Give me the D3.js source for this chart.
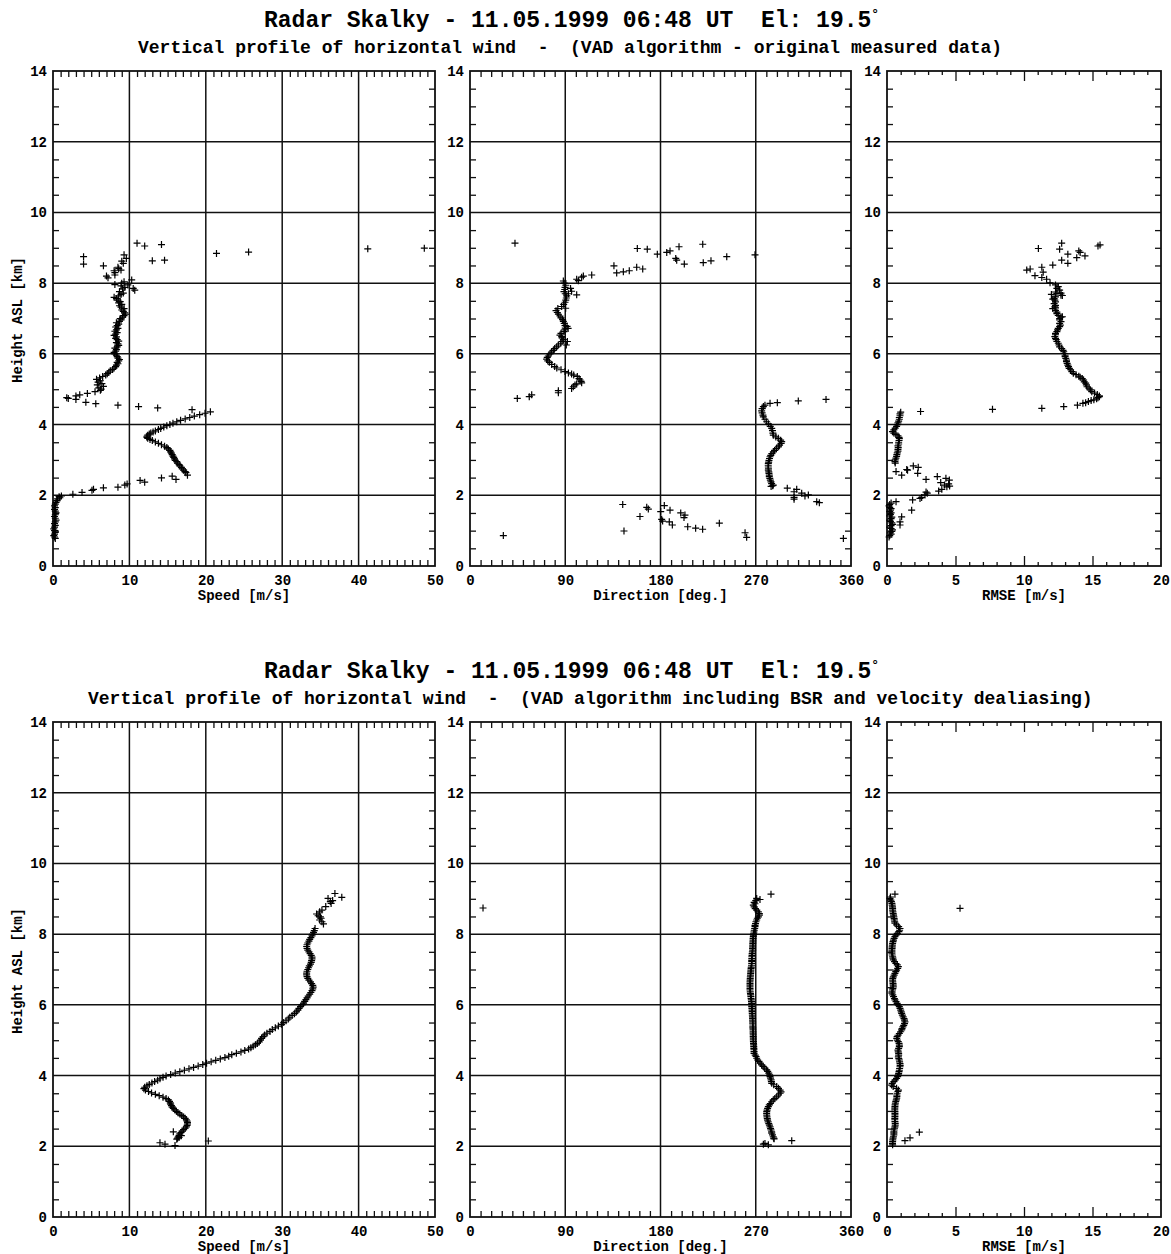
<!DOCTYPE html>
<html>
<head>
<meta charset="utf-8">
<script src="https://cdn.jsdelivr.net/npm/d3@7"></script>
<style>
body { margin: 0; background: #fff; }
text { font-family: "Liberation Mono", "Courier New", monospace; font-weight: bold; fill: #000; white-space: pre; }
.tick text { font-size: 14px; }
.axis-title { font-size: 14px; }
.title { font-size: 23px; }
.subtitle { font-size: 18px; }
</style>
</head>
<body>
<div id="chart"></div>
<script>
// wind profile, two VAD runs: [value, height km]

var titleText = "Radar Skalky - 11.05.1999 06:48 UT  El: 19.5";
var subtitles = [
    "Vertical profile of horizontal wind  -  (VAD algorithm - original measured data)",
    "Vertical profile of horizontal wind  -  (VAD algorithm including BSR and velocity dealiasing)"
];

var heightTicks = [0, 2, 4, 6, 8, 10, 12, 14];
var speedTicks = [0, 10, 20, 30, 40, 50];
var directionTicks = [0, 90, 180, 270, 360];
var rmseTicks = [0, 5, 10, 15, 20];

// ---- original measured data ----
var speedOriginal = [
    [0.3,0.78],[0.2,0.82],[0.1,0.86],[0.2,0.90],[0.3,0.95],[0.2,1.00],[0.1,1.05],[0.2,1.10],[0.3,1.15],[0.2,1.20],
    [0.3,1.25],[0.4,1.30],[0.3,1.35],[0.2,1.40],[0.3,1.45],[0.4,1.50],[0.3,1.55],[0.2,1.60],[0.3,1.65],[0.2,1.70],
    [0.3,1.75],[0.4,1.80],[0.5,1.85],[0.6,1.90],[0.9,1.93],[0.8,1.96],
    [1.1,1.98],[2.6,2.03],[3.8,2.08],[5.1,2.14],[5.3,2.17],[6.6,2.21],[8.5,2.23],[9.4,2.29],[9.7,2.32],[11.4,2.42],
    [12.0,2.37],[14.2,2.49],[15.6,2.54],[16.1,2.45],[17.4,2.64],[17.6,2.57],
    [17.3,2.67],[17.1,2.71],[16.9,2.75],[16.8,2.79],[16.6,2.83],[16.5,2.87],[16.3,2.91],[16.2,2.95],[16.0,2.99],[15.9,3.03],
    [15.8,3.07],[15.7,3.11],[15.6,3.15],[15.5,3.19],[15.4,3.23],[15.3,3.27],[15.1,3.31],[14.9,3.35],[14.6,3.39],[14.2,3.43],
    [13.8,3.47],[13.4,3.51],[13.0,3.55],[12.7,3.58],[12.4,3.61],[12.3,3.64],[12.3,3.67],[12.4,3.70],[12.6,3.73],[12.8,3.76],
    [13.1,3.79],[13.4,3.82],[13.8,3.86],[14.1,3.89],[14.5,3.93],[14.9,3.97],[15.3,4.00],[15.7,4.04],[16.2,4.08],[16.7,4.12],
    [17.3,4.16],[17.9,4.20],[18.5,4.24],[19.2,4.28],[19.9,4.32],[20.6,4.36],
    [18.2,4.42],[13.7,4.47],[11.2,4.51],[8.5,4.55],[5.6,4.59],[4.3,4.63],
    [1.8,4.76],[2.0,4.74],[3.0,4.81],[3.0,4.71],[3.5,4.84],[4.5,4.88],[5.5,4.93],[6.2,4.97],
    [6.3,5.00],[6.0,5.04],[6.6,5.08],[5.8,5.12],[6.4,5.16],[5.9,5.20],[6.2,5.24],[5.7,5.28],[6.1,5.32],[6.5,5.36],
    [6.9,5.40],[7.1,5.44],[7.3,5.48],[7.5,5.52],[7.8,5.56],[8.0,5.60],[8.2,5.64],[8.3,5.68],[8.5,5.72],[8.4,5.76],
    [8.6,5.80],[8.7,5.84],[8.5,5.88],[8.4,5.92],[8.3,5.96],[8.1,6.00],[8.0,6.04],[8.2,6.08],[8.3,6.12],[8.1,6.16],
    [8.4,6.20],[8.6,6.24],[8.5,6.28],[8.3,6.32],[8.6,6.36],[8.4,6.40],[8.2,6.44],[8.3,6.48],[8.0,6.52],[8.2,6.56],
    [8.4,6.60],[8.1,6.64],[8.3,6.68],[8.5,6.72],[8.2,6.76],[8.4,6.80],[8.6,6.84],[8.3,6.88],[8.7,6.92],[8.9,6.96],
    [8.8,7.00],[9.1,7.04],[9.3,7.08],[9.5,7.12],[9.4,7.16],[9.2,7.20],[9.0,7.24],[9.3,7.28],[8.9,7.32],[8.7,7.36],
    [9.0,7.40],[8.6,7.44],[8.8,7.48],[8.5,7.52],[8.3,7.56],[8.0,7.60],[8.6,7.64],[8.9,7.68],[9.2,7.72],[8.7,7.76],
    [10.7,7.80],[9.1,7.84],[9.4,7.88],[8.9,7.92],[8.1,7.96],[9.0,8.00],[9.3,8.04],[10.3,8.09],[10.5,7.85],[9.8,7.95],
    [7.2,8.15],[7.0,8.20],[8.1,8.23],[8.1,8.30],[8.0,8.35],[8.6,8.41],[8.9,8.37],[8.5,8.45],[6.6,8.49],[9.2,8.56],
    [9.0,8.62],[9.6,8.70],[9.3,8.80],[4.0,8.75],[4.0,8.54],[11.0,9.13],[12.0,9.05],[14.2,9.09],[13.0,8.63],[14.6,8.65],
    [21.4,8.84],[25.6,8.88],[41.2,8.97],[48.6,8.99]
];

var directionOriginal = [
    [42.5,9.13],[31.5,0.86],[44.7,4.74],[56,4.79],[58.3,4.84],[83.5,4.90],[83.5,4.96],
    [96,5.02],[97.6,5.07],[99.2,5.12],[100.8,5.15],[105.5,5.18],[105,5.22],[104,5.26],[103,5.30],[101.4,5.36],[98,5.40],
    [96,5.43],[93,5.46],[89.8,5.50],[86,5.55],[82,5.60],[80,5.64],[77.2,5.70],[75,5.76],[73.5,5.80],[72.4,5.85],
    [73,5.90],[74,5.94],[75.6,6.00],[77,6.05],[78.7,6.10],[80,6.15],[81.9,6.20],[83.5,6.25],[85.7,6.30],[87,6.35],
    [88.2,6.40],[87,6.45],[86.6,6.49],[85,6.53],[86,6.58],[88.8,6.63],[89.5,6.68],[90,6.73],[89.8,6.80],[89,6.86],
    [88.2,6.92],[87.5,6.97],[86,7.02],[85,7.07],[83.5,7.12],[82.5,7.17],[81.3,7.22],[83,7.28],[86.6,7.34],[88.5,7.40],
    [89.8,7.46],[90.5,7.52],[91,7.58],[91.4,7.64],[90,7.70],[88.8,7.76],[89.5,7.82],[89.8,7.88],[90.5,7.94],[89,8.00],
    [88.2,8.06],[100.8,7.67],[95,7.85],[96,7.77],[93,7.70],[90.4,7.29],[91.7,6.78],[92.7,6.72],[91,6.25],[92,6.35],
    [100.8,8.11],[102.4,8.07],[105.5,8.17],[107.1,8.20],[115,8.23],[136,8.49],[138.6,8.29],[144.9,8.32],[150.5,8.35],
    [157.5,8.45],[163.2,8.40],[158.1,8.98],[167.5,8.96],[177,8.82],[185.9,8.87],[189,8.91],[197.5,9.03],[194.4,8.70],
    [195.3,8.65],[202.5,8.54],[219.9,9.10],[220.4,8.58],[227.7,8.63],[242.6,8.75],[269.3,8.80],
    [277.2,4.51],[276,4.45],[275.6,4.39],[276,4.33],[276.8,4.27],[277.2,4.22],[278.7,4.15],[280.3,4.08],[282,4.02],
    [283.7,3.95],[285.1,3.89],[285.8,3.83],[286.2,3.76],[286.6,3.70],[289,3.65],[291.3,3.61],[293.5,3.56],[294.5,3.52],
    [294,3.47],[292.5,3.42],[291.3,3.37],[289.5,3.32],[287.8,3.27],[286.6,3.23],[285.2,3.18],[284.2,3.13],[283.5,3.09],
    [283,3.04],[282.5,2.99],[282.2,2.94],[281.9,2.90],[281.8,2.85],[281.9,2.80],[282,2.75],[281.9,2.71],[282.3,2.66],
    [282.5,2.62],[282.8,2.57],[282.8,2.53],[283.3,2.48],[283.8,2.43],[284.4,2.38],[285,2.33],[286.5,2.29],[286,2.27],
    [284.5,2.25],[278.7,4.55],[283.5,4.60],[290.4,4.62],[310.2,4.67],[336.4,4.71],
    [299.8,2.20],[306.2,2.10],[308.7,2.17],[306.2,1.89],[306.2,1.94],[313.4,2.06],[316.5,1.98],[319.7,2.01],
    [327.6,1.82],[330.1,1.79],[352.8,0.78],
    [144.3,1.74],[145.5,0.99],[160.6,1.40],[167,1.66],[168.5,1.61],[180.2,1.54],[183.6,1.71],[181.1,1.32],[182,1.27],
    [189,1.58],[188.3,1.25],[191.2,1.16],[199.1,1.50],[203.1,1.44],[202.2,1.37],[205.7,1.11],[213.2,1.07],[219.8,1.04],
    [235.6,1.21],[259.9,0.94],[261.4,0.81]
];

var rmseOriginal = [
    [11.05,8.98],[12.75,9.13],[12.6,8.96],[13.2,8.82],[14.0,8.91],[14.1,8.87],[15.4,9.05],[15.55,9.08],[14.45,8.77],
    [13.85,8.72],[12.75,8.65],[13.2,8.56],[12.1,8.51],[11.3,8.45],[11.4,8.31],[10.2,8.37],[10.45,8.40],[10.8,8.21],
    [11.3,8.16],[11.65,8.11],[11.9,8.01],
    [12.3,7.95],[12.5,7.90],[12.4,7.85],[12.6,7.80],[12.3,7.75],[12.4,7.71],[12.7,7.66],[12.3,7.61],[12.2,7.56],
    [12.25,7.52],[12.3,7.47],[12.2,7.42],[12.3,7.37],[12.25,7.33],[12.1,7.28],[12.3,7.23],[12.4,7.18],[12.4,7.14],
    [12.5,7.09],[12.7,7.04],[12.6,7.00],[12.6,6.96],[12.7,6.91],[12.6,6.86],[12.65,6.81],[12.6,6.77],[12.5,6.72],
    [12.45,6.68],[12.4,6.63],[12.3,6.58],[12.3,6.54],[12.25,6.49],[12.3,6.44],[12.35,6.40],[12.4,6.35],[12.5,6.30],
    [12.55,6.25],[12.6,6.20],[12.75,6.15],[12.85,6.10],[12.9,6.06],[12.95,6.01],[13.0,5.96],[13.0,5.92],[13.05,5.87],
    [13.1,5.82],[13.1,5.78],[13.15,5.73],[13.2,5.68],[13.25,5.64],[13.3,5.59],[13.4,5.55],[13.5,5.50],[13.6,5.45],
    [13.8,5.41],[14.0,5.37],[14.1,5.34],[14.25,5.30],[14.35,5.26],[14.4,5.21],[14.5,5.17],[14.55,5.12],[14.6,5.07],
    [14.75,5.03],[14.85,4.98],[14.95,4.93],[15.15,4.89],[15.35,4.85],[15.5,4.81],[15.5,4.79],[15.4,4.76],[15.3,4.73],
    [15.1,4.70],[14.9,4.68],[14.7,4.65],[14.5,4.62],[14.3,4.60],
    [12.0,7.68],[12.8,7.65],[12.7,7.72],[12.3,7.30],[12.8,7.05],[12.1,7.55],
    [13.9,4.55],[12.9,4.51],[11.3,4.46],[7.7,4.43],[2.45,4.37],
    [1.0,4.35],[0.95,4.30],[0.95,4.25],[0.9,4.20],[0.9,4.15],[0.85,4.10],[0.8,4.05],[0.75,4.00],[0.7,3.95],[0.6,3.90],
    [0.5,3.85],[0.4,3.80],[0.5,3.76],[0.65,3.72],[0.8,3.68],[0.88,3.64],[0.9,3.60],[0.88,3.55],[0.85,3.50],[0.85,3.45],
    [0.8,3.40],[0.82,3.35],[0.8,3.30],[0.8,3.25],[0.75,3.20],[0.72,3.15],[0.7,3.10],[0.65,3.05],[0.6,3.00],[0.58,2.95],
    [0.6,2.91],
    [0.66,2.67],[1.07,2.57],[1.44,2.73],[1.5,2.71],[1.92,2.83],[2.28,2.79],[2.24,2.62],[2.85,2.45],[3.67,2.53],[4.3,2.48],
    [4.55,2.43],[3.92,2.36],[4.2,2.29],[4.37,2.24],[4.57,2.26],[4.5,2.32],[3.77,2.12],[4.0,2.17],[2.94,2.06],[2.77,2.01],
    [2.53,1.94],[2.41,1.91],[2.85,2.09],[1.87,1.87],[1.8,1.58],[1.07,1.39],[0.95,1.25],[0.95,1.16],[0.66,1.82],
    [0.3,1.78],[0.2,1.74],[0.15,1.70],[0.2,1.66],[0.3,1.62],[0.25,1.58],[0.2,1.54],[0.3,1.50],[0.25,1.46],[0.2,1.42],
    [0.35,1.38],[0.3,1.34],[0.2,1.30],[0.25,1.26],[0.35,1.22],[0.4,1.18],[0.3,1.14],[0.2,1.10],[0.3,1.06],[0.4,1.02],
    [0.35,0.98],[0.25,0.94],[0.3,0.90],[0.2,0.86],[0.15,0.82]
];

// ---- BSR + dealiasing ----
var speedCorrected = [
    [37.8,9.04],[36.9,9.15],[36.0,9.01],[36.3,8.92],[36.6,8.95],[36.4,8.87],[35.7,8.78],[35.2,8.68],[34.9,8.63],[34.5,8.57],
    [35.0,8.49],[34.9,8.40],[35.4,8.29],[35.2,8.35],[34.3,8.16],[35.1,8.45],[34.7,8.52],
    [34.2,8.10],[34.1,8.05],[34.0,8.00],[33.9,7.95],[33.75,7.90],[33.6,7.85],[33.5,7.80],[33.35,7.75],[33.25,7.70],
    [33.2,7.65],[33.25,7.60],[33.35,7.55],[33.5,7.50],[33.65,7.45],[33.8,7.40],[33.9,7.35],[33.9,7.30],[33.85,7.25],
    [33.8,7.20],[33.7,7.15],[33.55,7.10],[33.45,7.05],[33.35,7.00],[33.25,6.95],[33.2,6.90],[33.2,6.85],[33.25,6.80],
    [33.35,6.75],[33.5,6.70],[33.7,6.65],[33.85,6.60],[34.0,6.55],[34.05,6.50],[34.0,6.45],[33.9,6.40],[33.75,6.35],
    [33.6,6.30],[33.4,6.25],[33.25,6.20],[33.1,6.15],[32.95,6.10],[32.8,6.05],[32.6,6.00],[32.4,5.95],[32.2,5.90],
    [32.05,5.85],[31.85,5.80],[31.6,5.75],[31.3,5.70],[31.0,5.65],[30.8,5.60],[30.5,5.55],[30.2,5.50],[29.9,5.45],
    [29.5,5.40],[29.1,5.35],[28.7,5.30],[28.4,5.25],[28.0,5.20],[27.7,5.15],[27.5,5.10],[27.3,5.05],[27.15,5.00],
    [27.0,4.95],[26.75,4.91],[26.5,4.87],[26.2,4.83],[25.9,4.79],[25.6,4.75],[25.1,4.71],[24.6,4.67],[24.0,4.63],
    [23.4,4.59],[23.0,4.55],[22.5,4.51],[21.9,4.47],[21.3,4.43],[20.7,4.39],[20.1,4.35],[19.6,4.31],[19.0,4.27],
    [18.4,4.23],[17.8,4.19],[17.2,4.15],[16.6,4.11],[16.0,4.07],[15.4,4.03],[14.8,3.99],[14.4,3.95],[14.0,3.91],
    [13.7,3.87],[13.3,3.83],[12.95,3.79],[12.6,3.75],[12.3,3.71],[12.0,3.67],[11.9,3.63],[12.1,3.59],[12.5,3.55],
    [12.9,3.51],[13.4,3.47],[13.9,3.43],[14.4,3.39],[14.8,3.35],[15.1,3.31],[15.25,3.27],[15.35,3.23],[15.4,3.19],
    [15.5,3.15],[15.6,3.11],[15.75,3.07],[15.95,3.03],[16.15,2.99],[16.35,2.95],[16.6,2.91],[16.85,2.87],[17.1,2.83],
    [17.3,2.79],[17.45,2.75],[17.55,2.71],[17.6,2.67],[17.6,2.63],[17.55,2.59],[17.45,2.55],[17.3,2.51],[17.1,2.47],
    [16.9,2.43],[16.75,2.39],[16.6,2.35],[16.5,2.31],[16.4,2.27],[16.3,2.23],[16.2,2.20],
    [15.75,2.41],[14.0,2.10],[14.66,2.06],[15.97,2.02],[20.33,2.15],[16.8,2.30],[16.5,2.25]
];

var directionCorrected = [
    [284.4,9.13],[270.9,9.01],[274,8.98],[270,8.95],[268.5,8.90],[269.3,8.86],[267.7,8.82],[268.5,8.77],[269.5,8.72],
    [271,8.68],[272.4,8.63],[273.4,8.58],[273.4,8.54],[272.5,8.49],[271.5,8.45],[270.9,8.40],[270.2,8.35],[269.8,8.30],
    [269.3,8.25],[269.3,8.21],[269,8.16],[268.6,8.11],[268.3,8.06],[268,8.01],[267.8,7.97],[267.7,7.93],[267.5,7.88],
    [267.4,7.83],[267.3,7.78],[267.2,7.74],[267.1,7.69],[267.1,7.64],[267,7.60],[267.1,7.55],[266.8,7.50],[266.6,7.45],
    [266.5,7.40],[266.3,7.36],[266.3,7.31],[266.2,7.26],[266.2,7.22],[266.2,7.17],[266,7.12],[265.8,7.07],[265.6,7.03],
    [265.4,6.98],[265.3,6.93],[265.2,6.89],[265,6.84],[264.9,6.79],[264.8,6.74],[264.7,6.70],[264.6,6.65],[264.6,6.60],
    [264.6,6.56],[264.6,6.51],[264.6,6.46],[264.6,6.42],[264.8,6.37],[265,6.32],[265.2,6.28],[265.4,6.23],[265.6,6.18],
    [265.8,6.14],[266,6.09],[266.1,6.04],[266.2,6.00],[266.2,5.95],[266.4,5.90],[266.5,5.85],[266.6,5.81],[266.7,5.76],
    [266.8,5.71],[266.9,5.66],[267,5.62],[267,5.57],[267.1,5.52],[267.1,5.48],[267.2,5.43],[267.2,5.38],[267.3,5.34],
    [267.4,5.29],[267.5,5.24],[267.5,5.20],[267.6,5.15],[267.6,5.10],[267.7,5.06],[267.7,5.01],[267.8,4.96],[267.9,4.91],
    [268,4.87],[268.1,4.82],[268.2,4.77],[268.3,4.73],[268.4,4.68],[268.4,4.63],[269.5,4.58],[270.3,4.54],[270.9,4.49],
    [271.8,4.44],[273,4.40],[274.2,4.35],[275.6,4.30],[277,4.26],[278.5,4.21],[280.3,4.16],[281.3,4.12],[282.3,4.07],
    [283.1,4.02],[283.5,3.97],[284,3.93],[284.5,3.88],[284.8,3.83],[285.1,3.78],[287,3.74],[289.8,3.69],[291.5,3.64],
    [293,3.59],[293.9,3.54],[293,3.50],[291.5,3.45],[289.8,3.40],[288,3.35],[286.5,3.31],[285.1,3.26],[283.8,3.21],
    [282.8,3.17],[281.9,3.12],[281.2,3.07],[280.7,3.02],[280.4,2.98],[280.3,2.93],[280.4,2.88],[280.6,2.83],[280.9,2.78],
    [281.2,2.74],[281.7,2.69],[282.3,2.64],[282.9,2.60],[283.5,2.55],[284,2.50],[284.5,2.46],[285,2.41],[285.1,2.37],
    [285.8,2.32],[286.5,2.27],[287,2.23],[287.3,2.21],
    [281.9,2.04],[278.7,2.08],[277.2,2.06],[304,2.16],[12.3,8.74]
];

var rmseCorrected = [
    [0.58,9.13],[0.25,9.05],[0.22,9.01],[0.28,8.96],[0.32,8.92],[0.36,8.87],[0.38,8.82],[0.40,8.77],[0.41,8.73],[0.41,8.68],
    [0.43,8.63],[0.45,8.58],[0.48,8.54],[0.5,8.49],[0.52,8.44],[0.54,8.40],[0.56,8.35],[0.58,8.31],[0.7,8.26],[0.85,8.21],
    [0.95,8.16],[0.92,8.11],[0.87,8.07],[0.75,8.02],[0.65,7.97],[0.58,7.93],[0.52,7.88],[0.47,7.83],[0.44,7.79],[0.41,7.74],
    [0.39,7.69],[0.38,7.64],[0.37,7.60],[0.36,7.55],[0.36,7.50],[0.36,7.46],[0.38,7.41],[0.41,7.36],[0.43,7.32],[0.46,7.27],
    [0.55,7.22],[0.65,7.17],[0.75,7.13],[0.83,7.08],[0.78,7.03],[0.7,6.98],[0.64,6.94],[0.58,6.89],[0.52,6.84],[0.46,6.79],
    [0.42,6.75],[0.41,6.70],[0.42,6.65],[0.44,6.60],[0.45,6.56],[0.46,6.51],[0.43,6.46],[0.4,6.42],[0.37,6.37],[0.36,6.33],
    [0.42,6.28],[0.48,6.23],[0.54,6.18],[0.58,6.14],[0.66,6.09],[0.74,6.04],[0.82,5.99],[0.9,5.95],[0.95,5.90],[1.0,5.85],
    [1.04,5.80],[1.07,5.76],[1.12,5.71],[1.18,5.66],[1.24,5.61],[1.28,5.57],[1.31,5.52],[1.28,5.47],[1.22,5.42],[1.16,5.38],
    [1.1,5.33],[1.07,5.29],[1.0,5.24],[0.9,5.19],[0.8,5.14],[0.74,5.10],[0.71,5.05],[0.75,5.00],[0.82,4.96],[0.88,4.91],
    [0.9,4.86],[0.9,4.82],[0.85,4.77],[0.8,4.72],[0.82,4.67],[0.85,4.63],[0.85,4.58],[0.83,4.53],[0.86,4.48],[0.9,4.44],
    [0.92,4.39],[0.95,4.34],[0.96,4.29],[0.95,4.25],[0.92,4.20],[0.9,4.15],[0.88,4.11],[0.85,4.06],[0.83,4.02],[0.78,3.97],
    [0.7,3.92],[0.6,3.88],[0.5,3.83],[0.38,3.78],[0.34,3.73],[0.45,3.69],[0.7,3.64],[0.83,3.59],[0.8,3.55],[0.74,3.50],
    [0.72,3.45],[0.72,3.41],[0.71,3.36],[0.68,3.31],[0.64,3.27],[0.61,3.22],[0.59,3.17],[0.58,3.12],[0.57,3.08],[0.57,3.03],
    [0.58,2.98],[0.58,2.93],[0.58,2.89],[0.58,2.84],[0.57,2.79],[0.57,2.75],[0.58,2.70],[0.6,2.65],[0.6,2.60],[0.58,2.55],
    [0.55,2.51],[0.52,2.46],[0.5,2.41],[0.5,2.37],[0.5,2.32],[0.47,2.27],[0.44,2.23],[0.42,2.18],[0.41,2.13],[0.4,2.08],
    [0.41,2.04],[1.31,2.16],[1.68,2.24],[2.36,2.40],[5.33,8.73]
];

// ---- layout ----
var width = 1171, height = 1254;
var plotH = 495;

var figures = [
    {top: 71,  subtitle: subtitles[0], subX: 138, speed: speedOriginal,  dir: directionOriginal,  rmse: rmseOriginal},
    {top: 722, subtitle: subtitles[1], subX: 88,  speed: speedCorrected, dir: directionCorrected, rmse: rmseCorrected}
];

var panels = [
    {key: "speed", x0: 53,  x1: 435,  domain: [0, 50],  ticks: speedTicks,     grid: true,  minor: 1,  label: "Speed [m/s]"},
    {key: "dir",   x0: 470, x1: 851,  domain: [0, 360], ticks: directionTicks, grid: true,  minor: 10, label: "Direction [deg.]"},
    {key: "rmse",  x0: 887, x1: 1161, domain: [0, 20],  ticks: rmseTicks,      grid: false, minor: 1,  label: "RMSE [m/s]"}
];

var svg = d3.select("#chart").append("svg")
    .attr("width", width)
    .attr("height", height);

var plus = "M-3.5,0H3.5M0,-3.5V3.5";

figures.forEach(function(fig) {

    // titles
    var t = svg.append("text")
        .attr("class", "title")
        .attr("x", 264)
        .attr("y", fig.top - 44)
        .text(titleText);
    t.append("tspan")
        .attr("dy", -9)
        .style("font-size", "13px")
        .text("\u00b0");

    svg.append("text")
        .attr("class", "subtitle")
        .attr("x", fig.subX)
        .attr("y", fig.top - 18)
        .text(fig.subtitle);

    var y = d3.scaleLinear().domain([0, 14]).range([fig.top + plotH, fig.top]);
    var minorY = d3.range(0.5, 14, 0.5).filter(function(v) { return v % 2 !== 0; });

    panels.forEach(function(p, pi) {
        var x = d3.scaleLinear().domain(p.domain).range([p.x0, p.x1]);
        var g = svg.append("g");
        var w = p.x1 - p.x0;

        // grid
        heightTicks.slice(1, -1).forEach(function(h) {
            g.append("line")
                .attr("x1", p.x0).attr("x2", p.x1)
                .attr("y1", y(h)).attr("y2", y(h))
                .attr("stroke", "#111").attr("stroke-width", 1.5);
        });
        if (p.grid) {
            p.ticks.slice(1, -1).forEach(function(v) {
                g.append("line")
                    .attr("x1", x(v)).attr("x2", x(v))
                    .attr("y1", fig.top).attr("y2", fig.top + plotH)
                    .attr("stroke", "#111").attr("stroke-width", 1.5);
            });
        }

        // minor ticks, x
        var minorX = d3.range(p.domain[0] + p.minor, p.domain[1], p.minor)
            .filter(function(v) { return p.ticks.indexOf(v) < 0; });
        var tickLen = p.key === "rmse" ? 4 : 6;

        g.append("g")
            .attr("transform", "translate(0," + (fig.top + plotH) + ")")
            .call(d3.axisBottom(x).tickValues(minorX).tickSize(-tickLen).tickFormat(""))
            .call(function(a) { a.select(".domain").remove(); });
        g.append("g")
            .attr("transform", "translate(0," + fig.top + ")")
            .call(d3.axisTop(x).tickValues(minorX).tickSize(-tickLen).tickFormat(""))
            .call(function(a) { a.select(".domain").remove(); });

        if (!p.grid) {
            var inner = p.ticks.slice(1, -1);
            g.append("g")
                .attr("transform", "translate(0," + (fig.top + plotH) + ")")
                .call(d3.axisBottom(x).tickValues(inner).tickSize(-10).tickFormat(""))
                .call(function(a) { a.select(".domain").remove(); });
            g.append("g")
                .attr("transform", "translate(0," + fig.top + ")")
                .call(d3.axisTop(x).tickValues(inner).tickSize(-10).tickFormat(""))
                .call(function(a) { a.select(".domain").remove(); });
        }

        // minor ticks, y
        g.append("g")
            .attr("transform", "translate(" + p.x0 + ",0)")
            .call(d3.axisLeft(y).tickValues(minorY).tickSize(-6).tickFormat(""))
            .call(function(a) { a.select(".domain").remove(); });
        g.append("g")
            .attr("transform", "translate(" + p.x1 + ",0)")
            .call(d3.axisRight(y).tickValues(minorY).tickSize(-6).tickFormat(""))
            .call(function(a) { a.select(".domain").remove(); });

        g.selectAll(".tick line").attr("stroke", "#111").attr("stroke-width", 1.3);

        // tick labels
        g.append("g")
            .attr("transform", "translate(0," + (fig.top + plotH) + ")")
            .call(d3.axisBottom(x).tickValues(p.ticks).tickSize(0).tickPadding(9).tickFormat(d3.format("d")))
            .call(function(a) { a.select(".domain").remove(); });
        g.append("g")
            .attr("transform", "translate(" + p.x0 + ",0)")
            .call(d3.axisLeft(y).tickValues(heightTicks).tickSize(0).tickPadding(6).tickFormat(d3.format("d")))
            .call(function(a) { a.select(".domain").remove(); });

        // axis titles
        g.append("text")
            .attr("class", "axis-title")
            .attr("x", p.x0 + w / 2)
            .attr("y", fig.top + plotH + 34)
            .attr("text-anchor", "middle")
            .text(p.label);

        if (pi === 0) {
            g.append("text")
                .attr("class", "axis-title")
                .attr("transform", "translate(22," + (fig.top + 249) + ") rotate(-90)")
                .attr("text-anchor", "middle")
                .text("Height ASL [km]");
        }

        // frame
        g.append("rect")
            .attr("x", p.x0).attr("y", fig.top)
            .attr("width", w).attr("height", plotH)
            .attr("fill", "none")
            .attr("stroke", "#111").attr("stroke-width", 1.8);

        // points
        g.selectAll("path.pt")
            .data(fig[p.key])
            .join("path")
            .attr("class", "pt")
            .attr("d", plus)
            .attr("transform", function(d) { return "translate(" + x(d[0]) + "," + y(d[1]) + ")"; })
            .attr("stroke", "#000")
            .attr("stroke-width", 1.2)
            .attr("fill", "none");
    });
});
</script>
</body>
</html>
